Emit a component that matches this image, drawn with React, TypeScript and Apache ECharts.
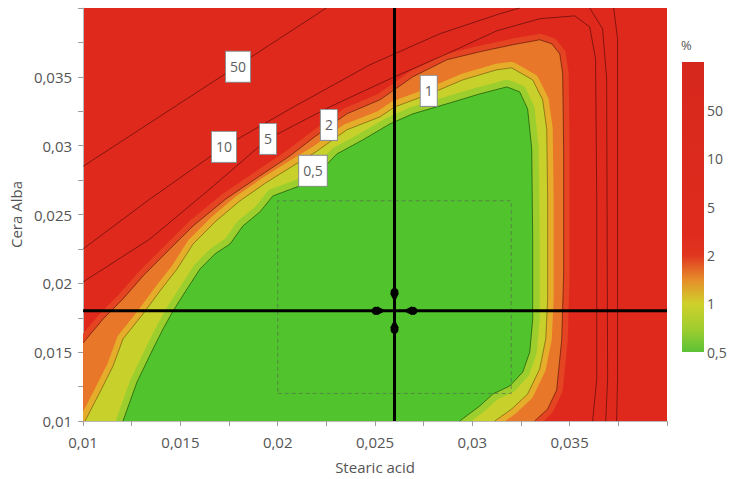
import React, { useEffect, useRef } from "react";
import * as echarts from "echarts";

// ---- axes ----
const X_MIN = 0.01;
const X_MAX = 0.04;
const Y_MIN = 0.01;
const Y_MAX = 0.04;
const TICK_STEP = 0.0025;
const X_NAME = "Stearic acid";
const Y_NAME = "Cera Alba";

// ---- contour lines (data coordinates) ----
const contour05: [number, number][] = [
  [0.01205, 0.01], [0.01277, 0.01283], [0.01359, 0.01523], [0.01411, 0.01669],
  [0.01462, 0.01799], [0.01534, 0.01959], [0.01601, 0.02105], [0.01678, 0.02214],
  [0.01755, 0.02286], [0.01821, 0.02417], [0.01909, 0.02519], [0.01975, 0.02635],
  [0.02114, 0.02708], [0.02196, 0.02781], [0.02304, 0.0294], [0.02437, 0.03042],
  [0.02576, 0.03158], [0.02694, 0.03231], [0.02869, 0.03304], [0.03038, 0.03376],
  [0.03177, 0.03427], [0.03243, 0.03391], [0.03284, 0.03267], [0.03305, 0.02977],
  [0.0331, 0.02323], [0.0331, 0.01741], [0.03295, 0.01501], [0.03259, 0.01356],
  [0.03192, 0.01254], [0.03105, 0.01196], [0.03038, 0.01109], [0.02935, 0.01],
];
const contour1: [number, number][] = [
  [0.0101, 0.01], [0.01087, 0.01211], [0.01154, 0.014], [0.01205, 0.01596],
  [0.01308, 0.01778], [0.01395, 0.01945], [0.01483, 0.02105], [0.01565, 0.02286],
  [0.01683, 0.02453], [0.01806, 0.02599], [0.01939, 0.0273], [0.02078, 0.02853],
  [0.02196, 0.02955], [0.02355, 0.03115], [0.02525, 0.03209], [0.02602, 0.03282],
  [0.02781, 0.03376], [0.02951, 0.03478], [0.03125, 0.03551], [0.03202, 0.03565],
  [0.0331, 0.03478], [0.03361, 0.03333], [0.03382, 0.03122], [0.03387, 0.02613],
  [0.03387, 0.01887], [0.03377, 0.01596], [0.03346, 0.01378], [0.03284, 0.01196],
  [0.03202, 0.01087], [0.03115, 0.01],
];
const contour2: [number, number][] = [
  [0.01, 0.01567], [0.01103, 0.01741], [0.01205, 0.01887], [0.01308, 0.02054],
  [0.01421, 0.02214], [0.01565, 0.02417], [0.01734, 0.02613], [0.01909, 0.02781],
  [0.02063, 0.02926], [0.02196, 0.03071], [0.02355, 0.03231], [0.02525, 0.03333],
  [0.02694, 0.035], [0.02869, 0.03624], [0.03038, 0.03682], [0.03207, 0.03733],
  [0.03346, 0.03769], [0.03408, 0.0374], [0.03449, 0.03667], [0.03464, 0.03522],
  [0.03469, 0.02977], [0.03469, 0.02068], [0.03459, 0.01589], [0.03433, 0.01225],
  [0.03387, 0.01087], [0.0332, 0.01],
];
const contour5: [number, number][] = [
  [0.01, 0.0201], [0.01344, 0.02323], [0.01652, 0.02686], [0.0195, 0.03049],
  [0.02268, 0.03282], [0.02576, 0.03485], [0.02869, 0.03667], [0.03125, 0.03834],
  [0.03346, 0.03922], [0.03526, 0.03943], [0.03603, 0.03863], [0.03633, 0.03631],
  [0.03639, 0.02613], [0.03639, 0.01305], [0.03618, 0.01],
];
const contour10Left: [number, number][] = [
  [0.01, 0.0225], [0.01344, 0.02613], [0.01724, 0.02991], [0.02063, 0.03267],
  [0.02473, 0.03587], [0.02833, 0.03813], [0.03141, 0.03958], [0.03243, 0.04],
];
const contour10Right: [number, number][] = [
  [0.03603, 0.04], [0.03669, 0.03849], [0.0369, 0.03485], [0.03695, 0.01305], [0.03685, 0.01],
];
const contour50Left: [number, number][] = [
  [0.01, 0.0285], [0.0162, 0.0342], [0.0225, 0.04],
];
const contour50Right: [number, number][] = [
  [0.03726, 0.04], [0.03746, 0.03776], [0.03746, 0.01305], [0.03741, 0.01],
];

// ---- contour labels ----
const labelTexts = ["50", "10", "5", "2", "0,5", "1"];
const labelX = [0.01796, 0.01724, 0.0195, 0.02263, 0.02181, 0.02776];
const labelY = [0.03573, 0.02991, 0.03049, 0.03151, 0.02817, 0.03398];

// ---- optimum crosshair & design space ----
const optimumX = 0.026;
const optimumY = 0.018;
const designX = [0.02, 0.032];
const designY = [0.012, 0.026];

// ---- colour scale ----
const colorbarLevels = ["0,5", "1", "2", "5", "10", "50"];
const colorbarTitle = "%";

const RED = "#e0291d";
const GREEN = "#50c32d";
const FONT = "'Open Sans', 'Noto Sans', sans-serif";
const TEXT = "#555555";

const fmtTick = (v: number) => {
  const k = Math.round((v - X_MIN) / TICK_STEP);
  if (k % 2 !== 0) return "";
  if (Math.abs(v - 0.04) < 1e-9) return "";
  return String(parseFloat(v.toFixed(4))).replace(".", ",");
};

const region = (pts: [number, number][], fill: string, halo: string, haloWidth: number, closeCorner?: [number, number]) => {
  const poly = closeCorner ? [...pts, closeCorner] : pts;
  return {
    type: "custom",
    coordinateSystem: "cartesian2d",
    silent: true,
    clip: true,
    data: [poly[0]],
    renderItem: (_p: any, api: any) => {
      const points = poly.map((p) => api.coord(p));
      return {
        type: "group",
        children: [
          { type: "polygon", shape: { points }, style: { fill: "none", stroke: halo, lineWidth: haloWidth, lineJoin: "round" } },
          { type: "polygon", shape: { points }, style: { fill, stroke: "none" } },
        ],
      };
    },
  };
};

const contourLine = (pts: [number, number][], color = "rgba(40,0,0,0.5)") => ({
  type: "line",
  data: pts,
  showSymbol: false,
  silent: true,
  smooth: false,
  lineStyle: { color, width: 1 },
});

export default function App() {
  const ref = useRef<HTMLDivElement>(null);
  useEffect(() => {
    document.body.style.margin = "0";
    const chart = echarts.init(ref.current!, undefined, { renderer: "svg" });
    const barTop = 62;
    const barH = 290;
    const barX = 682;
    const barW = 22;
    const n = colorbarLevels.length;
    const stepH = barH / n;

    const option: any = {
      animation: false,
      textStyle: { fontFamily: FONT },
      grid: { left: 83, right: 64, top: 8, bottom: 57, show: true, backgroundColor: RED, borderWidth: 0 },
      xAxis: {
        type: "value",
        min: X_MIN,
        max: X_MAX,
        interval: TICK_STEP,
        name: X_NAME,
        nameLocation: "middle",
        nameGap: 38,
        nameTextStyle: { fontSize: 15, color: TEXT, fontFamily: FONT },
        axisLine: { show: true, lineStyle: { color: "#b8b8b8" } },
        axisTick: { show: true, length: 5, lineStyle: { color: "#9a9a9a" } },
        axisLabel: { formatter: fmtTick, fontSize: 15, color: TEXT, margin: 13, fontFamily: FONT },
        splitLine: { show: false },
      },
      yAxis: {
        type: "value",
        min: Y_MIN,
        max: Y_MAX,
        interval: TICK_STEP,
        name: Y_NAME,
        nameLocation: "middle",
        nameGap: 56,
        nameTextStyle: { fontSize: 15, color: TEXT, fontFamily: FONT },
        axisLine: { show: true, lineStyle: { color: "#b8b8b8" } },
        axisTick: { show: true, length: 5, lineStyle: { color: "#9a9a9a" } },
        axisLabel: { formatter: fmtTick, fontSize: 15, color: TEXT, margin: 11, fontFamily: FONT },
        splitLine: { show: false },
      },
      series: [
        region(contour2, "#e9772a", "rgba(228,70,34,0.95)", 12, [X_MIN, Y_MIN]),
        region(contour1, "#c8d02b", "#e6ad2a", 12),
        region(contour05, GREEN, "#9ccf2d", 14),
        contourLine(contour50Left),
        contourLine(contour50Right),
        contourLine(contour10Left),
        contourLine(contour10Right),
        contourLine(contour5),
        contourLine(contour2),
        contourLine(contour1, "rgba(60,40,0,0.45)"),
        contourLine(contour05, "rgba(10,60,0,0.6)"),
        {
          type: "line",
          data: [
            [designX[0], designY[0]],
            [designX[1], designY[0]],
            [designX[1], designY[1]],
            [designX[0], designY[1]],
            [designX[0], designY[0]],
          ],
          showSymbol: false,
          silent: true,
          lineStyle: { color: "rgba(90,90,90,0.55)", width: 1, type: [4, 3] },
        },
        {
          type: "line",
          data: [[optimumX, Y_MIN], [optimumX, Y_MAX]],
          showSymbol: false,
          silent: true,
          lineStyle: { color: "#000", width: 3 },
        },
        {
          type: "line",
          data: [[X_MIN, optimumY], [X_MAX, optimumY]],
          showSymbol: false,
          silent: true,
          lineStyle: { color: "#000", width: 3 },
        },
        {
          type: "scatter",
          silent: true,
          symbol: "circle",
          symbolSize: 8,
          itemStyle: { color: "#000", opacity: 1 },
          data: [
            { value: [optimumX, optimumY], symbolOffset: [0, -19] },
            { value: [optimumX, optimumY], symbolOffset: [0, 19] },
            { value: [optimumX, optimumY], symbolOffset: [-19, 0] },
            { value: [optimumX, optimumY], symbolOffset: [19, 0] },
          ],
        },
        {
          type: "scatter",
          silent: true,
          symbol: "triangle",
          symbolSize: 9,
          itemStyle: { color: "#000", opacity: 1 },
          data: [
            { value: [optimumX, optimumY], symbolOffset: [0, -13], symbolRotate: 180 },
            { value: [optimumX, optimumY], symbolOffset: [0, 13], symbolRotate: 0 },
            { value: [optimumX, optimumY], symbolOffset: [-13, 0], symbolRotate: -90 },
            { value: [optimumX, optimumY], symbolOffset: [13, 0], symbolRotate: 90 },
          ],
        },
        {
          type: "scatter",
          silent: true,
          symbolSize: 1,
          itemStyle: { color: "rgba(0,0,0,0)", opacity: 1 },
          z: 10,
          data: labelTexts.map((t, i) => ({ name: t, value: [labelX[i], labelY[i]] })),
          label: {
            show: true,
            position: "inside",
            formatter: "{b}",
            fontSize: 14,
            lineHeight: 16,
            color: "#5e5e5e",
            fontFamily: FONT,
            backgroundColor: "#ffffff",
            borderColor: "#8f8f8f",
            borderWidth: 1,
            padding: [7, 4, 7, 4],
          },
        },
      ],
      graphic: [
        {
          type: "rect",
          shape: { x: barX, y: barTop, width: barW, height: barH },
          style: {
            fill: new echarts.graphic.LinearGradient(0, 0, 0, 1, [
              { offset: 0, color: "#d7281d" },
              { offset: 0.6, color: "#df2b1e" },
              { offset: 4 / 6, color: "#e0361f" },
              { offset: 0.75, color: "#e68c2a" },
              { offset: 5 / 6, color: "#cfd02b" },
              { offset: 0.92, color: "#9fcd2f" },
              { offset: 1, color: "#5cc236" },
            ]),
          },
        },
        {
          type: "text",
          x: 681,
          y: 45,
          style: { text: colorbarTitle, fontSize: 13, fill: TEXT, fontFamily: FONT, verticalAlign: "middle" },
        },
        ...colorbarLevels.map((t, i) => ({
          type: "text",
          x: barX + barW + 3,
          y: barTop + barH - i * stepH,
          style: { text: t, fontSize: 14, fill: TEXT, fontFamily: FONT, verticalAlign: "middle" },
        })),
      ],
    };
    chart.setOption(option);
    return () => chart.dispose();
  }, []);
  return <div ref={ref} style={{ width: 731, height: 479 }} />;
}
